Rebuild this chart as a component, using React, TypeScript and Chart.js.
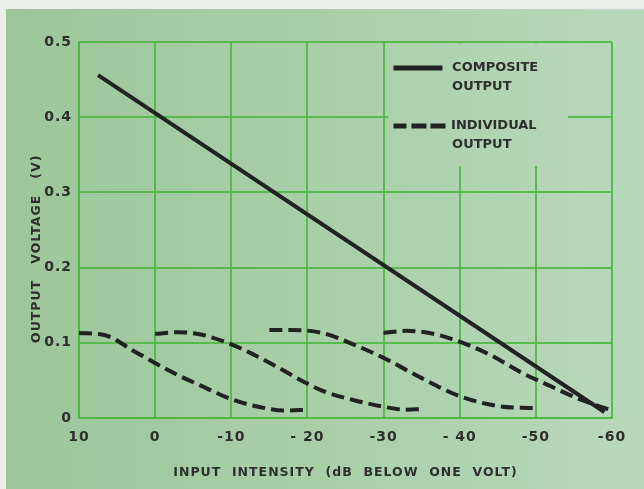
import React, { useEffect, useRef } from 'react';
import { Chart, registerables } from 'chart.js';

Chart.register(...registerables);

// ---------- data ----------
const compositeX = [7.5, -59];
const compositeY = [0.456, 0.008];

const individual1X = [10, 7, 5.5, 3, 1, 0, -3, -6, -10, -14, -17, -20];
const individual1Y = [0.113, 0.111, 0.106, 0.09, 0.079, 0.073, 0.057, 0.043, 0.025, 0.014, 0.01, 0.011];

const individual2X = [0, -3, -6, -10, -13, -16, -19, -22, -26, -30, -33, -35];
const individual2Y = [0.112, 0.114, 0.111, 0.098, 0.084, 0.068, 0.051, 0.036, 0.024, 0.015, 0.011, 0.012];

const individual3X = [-15, -18, -22, -26, -30, -35, -40, -45, -50];
const individual3Y = [0.117, 0.117, 0.113, 0.098, 0.08, 0.053, 0.029, 0.016, 0.013];

const individual4X = [-30, -33, -36, -39, -44, -48, -52, -56, -60];
const individual4Y = [0.113, 0.116, 0.113, 0.105, 0.084, 0.061, 0.042, 0.024, 0.01];

const xTickValues = [10, 0, -10, -20, -30, -40, -50, -60];
const xTickLabels = ['10', '0', '-10', '- 20', '-30', '- 40', '-50', '-60'];
const yTickValues = [0, 0.1, 0.2, 0.3, 0.4, 0.5];
const yTickLabels = ['0', '0.1', '0.2', '0.3', '0.4', '0.5'];

const xTitle = 'INPUT  INTENSITY  (dB  BELOW  ONE  VOLT)';
const yTitle = 'OUTPUT   VOLTAGE   (V)';
const legendComposite = ['COMPOSITE', 'OUTPUT'];
const legendIndividual = ['INDIVIDUAL', 'OUTPUT'];

// ---------- styles ----------
const W = 644;
const H = 489;
const INK = '#222222';
const TEXT = '#2e2e2e';
const GRID = 'rgba(78, 184, 66, 0.9)';
const FONT = "'DejaVu Sans', sans-serif";

const toPoints = (xs: number[], ys: number[]) => xs.map((x, i) => ({ x, y: ys[i] }));

function makeGradient(ctx: CanvasRenderingContext2D) {
  const g = ctx.createLinearGradient(0, 0, W, 0);
  g.addColorStop(0, '#9cc69a');
  g.addColorStop(0.5, '#a9cfa9');
  g.addColorStop(1, '#b8d8bb');
  return g;
}

const backgroundPlugin = {
  id: 'paperBackground',
  beforeDraw(chart: any) {
    const ctx = chart.ctx as CanvasRenderingContext2D;
    ctx.save();
    ctx.fillStyle = '#eceeec';
    ctx.fillRect(0, 0, W, H);
    ctx.fillStyle = makeGradient(ctx);
    ctx.fillRect(6, 9, W - 6, H - 9);
    ctx.restore();
    (ctx as any).letterSpacing = '1px';
  },
};

const legendGapPlugin = {
  id: 'legendGap',
  beforeDatasetsDraw(chart: any) {
    const ctx = chart.ctx as CanvasRenderingContext2D;
    const xs = chart.scales.x;
    const ys = chart.scales.y;
    const left = xs.getPixelForValue(-30.6);
    const right = xs.getPixelForValue(-54.2);
    const top = chart.chartArea.top + 1.5;
    const bottom = ys.getPixelForValue(0.335);
    ctx.save();
    ctx.fillStyle = makeGradient(ctx);
    ctx.fillRect(left, top, right - left, bottom - top);
    ctx.restore();
  },
};

const annotationPlugin = {
  id: 'annotations',
  afterDatasetsDraw(chart: any) {
    const ctx = chart.ctx as CanvasRenderingContext2D;
    const xs = chart.scales.x;
    const ys = chart.scales.y;
    const ca = chart.chartArea;
    ctx.save();
    // y-axis title
    (ctx as any).letterSpacing = '1px';
    ctx.fillStyle = TEXT;
    ctx.font = `bold 12.5px ${FONT}`;
    ctx.textAlign = 'center';
    ctx.textBaseline = 'middle';
    ctx.translate(37, ys.getPixelForValue(0.225));
    ctx.rotate(-Math.PI / 2);
    ctx.fillText(yTitle, 0, 0);
    ctx.restore();

    // legend
    const lx = xs.getPixelForValue(-31.3);
    const tx = xs.getPixelForValue(-39.0);
    const y1 = ca.top + 26;
    const y2 = ca.top + 84;
    ctx.save();
    ctx.strokeStyle = INK;
    ctx.lineWidth = 5;
    ctx.beginPath();
    ctx.moveTo(lx, y1);
    ctx.lineTo(lx + 49, y1);
    ctx.stroke();
    const segs = [[0, 13], [18, 33], [37, 52]];
    ctx.beginPath();
    segs.forEach(([a, b]) => {
      ctx.moveTo(lx + a, y2);
      ctx.lineTo(lx + b, y2);
    });
    ctx.stroke();
    (ctx as any).letterSpacing = '0px';
    ctx.fillStyle = TEXT;
    ctx.font = `bold 13px ${FONT}`;
    ctx.textAlign = 'left';
    ctx.textBaseline = 'middle';
    ctx.fillText(legendComposite[0], tx, y1);
    ctx.fillText(legendComposite[1], tx, y1 + 19);
    ctx.fillText(legendIndividual[0], tx - 1, y2);
    ctx.fillText(legendIndividual[1], tx, y2 + 19);
    ctx.restore();
  },
};

export default function App() {
  const ref = useRef<HTMLCanvasElement | null>(null);

  useEffect(() => {
    if (!ref.current) return;
    const dashed = {
      borderColor: INK,
      borderWidth: 4,
      borderDash: [13, 6],
      pointRadius: 0,
      fill: false,
      cubicInterpolationMode: 'monotone' as const,
    };
    const chart = new Chart(ref.current, {
      type: 'line',
      data: {
        datasets: [
          {
            label: 'COMPOSITE OUTPUT',
            data: toPoints(compositeX, compositeY),
            borderColor: INK,
            borderWidth: 4,
            pointRadius: 0,
            fill: false,
          },
          { label: 'INDIVIDUAL OUTPUT', data: toPoints(individual1X, individual1Y), ...dashed },
          { label: 'INDIVIDUAL OUTPUT 2', data: toPoints(individual2X, individual2Y), ...dashed },
          { label: 'INDIVIDUAL OUTPUT 3', data: toPoints(individual3X, individual3Y), ...dashed },
          { label: 'INDIVIDUAL OUTPUT 4', data: toPoints(individual4X, individual4Y), ...dashed },
        ],
      },
      options: {
        responsive: false,
        animation: false,
        events: [],
        layout: { padding: { left: 0, top: 42, right: 32, bottom: 0 } },
        plugins: {
          legend: { display: false },
          tooltip: { enabled: false },
          title: { display: false },
        },
        scales: {
          x: {
            type: 'linear',
            reverse: true,
            min: -60,
            max: 10,
            afterFit: (s: any) => {
              s.height = 71;
            },
            afterBuildTicks: (s: any) => {
              s.ticks = xTickValues.map((v) => ({ value: v }));
            },
            grid: { color: GRID, lineWidth: 2, drawTicks: false },
            border: { display: true, color: GRID, width: 2 },
            ticks: {
              padding: 11,
              color: TEXT,
              font: { family: FONT, size: 14, weight: 'bold' },
              maxRotation: 0,
              autoSkip: false,
              callback: (v: any) => {
                const i = xTickValues.indexOf(Number(v));
                return i >= 0 ? xTickLabels[i] : '';
              },
            },
            title: {
              display: true,
              text: xTitle,
              color: TEXT,
              font: { family: FONT, size: 12.5, weight: 'bold' },
              padding: { top: 0, bottom: 9 },
            },
          },
          y: {
            type: 'linear',
            min: 0,
            max: 0.5,
            afterFit: (s: any) => {
              s.width = 79;
            },
            afterBuildTicks: (s: any) => {
              s.ticks = yTickValues.map((v) => ({ value: v }));
            },
            grid: { color: GRID, lineWidth: 2, drawTicks: false },
            border: { display: true, color: GRID, width: 2 },
            ticks: {
              padding: 7,
              color: TEXT,
              font: { family: FONT, size: 14, weight: 'bold' },
              autoSkip: false,
              callback: (v: any) => {
                const i = yTickValues.findIndex((t) => Math.abs(t - Number(v)) < 1e-9);
                return i >= 0 ? yTickLabels[i] : '';
              },
            },
          },
        },
      },
      plugins: [backgroundPlugin, legendGapPlugin, annotationPlugin],
    } as any);
    return () => chart.destroy();
  }, []);

  return (
    <div style={{ position: 'absolute', left: 0, top: 0, width: W, height: H }}>
      <canvas ref={ref} width={W} height={H} style={{ display: 'block', width: W, height: H }} />
    </div>
  );
}
